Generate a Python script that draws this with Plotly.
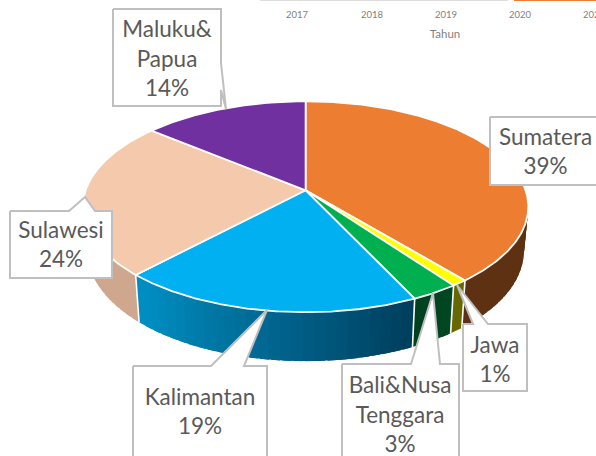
import math
import plotly.graph_objects as go

# ---- data ----
categories = ["Sumatera", "Jawa", "Bali&Nusa<br>Tenggara", "Kalimantan", "Sulawesi", "Maluku&<br>Papua"]
values = [39, 1, 3, 19, 24, 14]
years = ["2017", "2018", "2019", "2020", "2021"]
axis_title = "Tahun"

# ---- styles ----
top_colors = ["#ED7D31", "#FFFF00", "#00B050", "#00B0F0", "#F5C9AC", "#7030A0"]
wall_left = ["#5E3113", "#6B6B00", "#00401F", "#0090C4", "#CDA68E", "#3C1A58"]
wall_right = ["#5E3113", "#666600", "#004A22", "#003A58", "#CFA78E", "#3C1A58"]
TEXT = "#595959"
BORDER = "#BFBFBF"
FONT = "Lato"
W, H = 596, 456

# projection of the tilted disc into page pixels
CX, CY, A, K, P, D, SHRINK = 305.6, 190.3, 220, 102.9, 0.156, 43.4, 0.98


def top_pt(deg):
    t = math.radians(deg)
    den = 1 + P * math.cos(t)
    return CX + A * math.sin(t) / den, CY - K * math.cos(t) / den


def bottom_pt(deg):
    t = math.radians(deg)
    den = 1 + P * math.cos(t)
    x, y = top_pt(deg)
    return CX + SHRINK * (x - CX), CY + SHRINK * (y - CY) + D / den


def hex_mix(a, b, f):
    ca = [int(a[i:i + 2], 16) for i in (1, 3, 5)]
    cb = [int(b[i:i + 2], 16) for i in (1, 3, 5)]
    return "rgb(%d,%d,%d)" % tuple(round(p + (q - p) * f) for p, q in zip(ca, cb))


def arange(a, b, step=1.0):
    n = max(2, int(abs(b - a) / step) + 1)
    return [a + (b - a) * i / (n - 1) for i in range(n)]


def poly(xs, ys, fill, line=None, width=0):
    return go.Scatter(x=xs, y=ys, mode="lines", fill="toself", fillcolor=fill,
                      line=dict(color=line or fill, width=width if line else 0),
                      hoverinfo="skip", showlegend=False)


fig = go.Figure()

# slice angles (clockwise from 12 o'clock)
total = sum(values)
angles = [0]
for v in values:
    angles.append(angles[-1] + 360 * v / total)

# side walls (front half only), shaded left to right
for i in range(len(values)):
    a0, a1 = angles[i], angles[i + 1]
    lo, hi = max(a0, 70), min(a1, 290)
    if lo >= hi:
        continue
    n = max(1, int((hi - lo) / 2.5))
    for k in range(n):
        s0 = max(lo, lo + (hi - lo) * k / n - 2.0)  # overlap the previous strip to hide seams
        s1 = lo + (hi - lo) * (k + 1) / n
        sweep = arange(s0, s1, 0.5)
        frac = 1 - (k + 0.5) / n  # larger angle = further left on the front side
        xs = [top_pt(s)[0] for s in sweep] + [bottom_pt(s)[0] for s in reversed(sweep)]
        ys = [top_pt(s)[1] for s in sweep] + [bottom_pt(s)[1] for s in reversed(sweep)]
        fig.add_trace(poly(xs, ys, hex_mix(wall_left[i], wall_right[i], frac)))

# white seams between walls
for i in range(len(values)):
    a = angles[i]
    if 90 < a < 270:
        p, q = top_pt(a), bottom_pt(a)
        fig.add_trace(go.Scatter(x=[p[0], q[0]], y=[p[1], q[1]], mode="lines",
                                 line=dict(color="white", width=1.6),
                                 hoverinfo="skip", showlegend=False))

# top face
for i in range(len(values)):
    sweep = arange(angles[i], angles[i + 1], 0.5)
    xs = [CX] + [top_pt(s)[0] for s in sweep] + [CX]
    ys = [CY] + [top_pt(s)[1] for s in sweep] + [CY]
    fig.add_trace(poly(xs, ys, top_colors[i], "white", 1.8))

# truncated chart strip and axis text from the neighbouring chart
strip_x = [[260, 508], [514, 596]]
strip_c = ["#DDDDDD", "#ED7D31"]
for sx, sc in zip(strip_x, strip_c):
    fig.add_trace(go.Scatter(x=sx, y=[0.4, 0.4], mode="lines", line=dict(color=sc, width=1.4),
                             hoverinfo="skip", showlegend=False))
fig.add_trace(go.Scatter(x=[297, 372, 446, 520, 594], y=[16] * 5, mode="text", text=years,
                         textfont=dict(family=FONT, size=9.5, color="#7F7F7F"),
                         textposition="middle center", hoverinfo="skip", showlegend=False))
fig.add_trace(go.Scatter(x=[445], y=[35], mode="text", text=[axis_title],
                         textfont=dict(family=FONT, size=11.5, color="#7F7F7F"),
                         textposition="middle center", hoverinfo="skip", showlegend=False))

# callout outlines, listed in category order
callouts = [
    [(490, 117), (600, 117), (600, 185), (490, 185)],
    [(463, 324), (473, 324), (457, 285), (488, 324), (527, 324), (527, 391), (463, 391)],
    [(342, 364), (411, 364), (433, 293), (440, 364), (459, 364), (459, 462), (342, 462)],
    [(133, 366), (211, 366), (267, 310), (244, 366), (267, 366), (267, 462), (133, 462)],
    [(10, 211), (69, 211), (85, 197), (95, 211), (112, 211), (112, 278), (10, 278)],
    [(113, 9), (221, 9), (221, 63), (226, 109), (221, 90), (221, 106), (113, 106)],
]
label_xy = [(545.5, 154), (495, 362), (400, 417), (200, 414), (61, 247), (167, 61)]

for i, pts in enumerate(callouts):
    xs = [p[0] for p in pts] + [pts[0][0]]
    ys = [p[1] for p in pts] + [pts[0][1]]
    fig.add_trace(poly(xs, ys, "white", BORDER, 2))
    share = round(100 * values[i] / total)
    fig.add_trace(go.Scatter(x=[label_xy[i][0]], y=[label_xy[i][1]], mode="text",
                             text=[f"{categories[i]}<br>{share}%"],
                             textfont=dict(family=FONT, size=22.5, color=TEXT),
                             textposition="middle center", hoverinfo="skip", showlegend=False))

fig.update_layout(
    width=W, height=H, margin=dict(l=0, r=0, t=0, b=0),
    paper_bgcolor="white", plot_bgcolor="white", showlegend=False,
    xaxis=dict(range=[0, W], visible=False, fixedrange=True),
    yaxis=dict(range=[H, 0], visible=False, fixedrange=True),
)
fig.write_html("out.html", config={"displayModeBar": False},
               post_script="document.body.style.margin='0';document.body.style.overflow='hidden';")
